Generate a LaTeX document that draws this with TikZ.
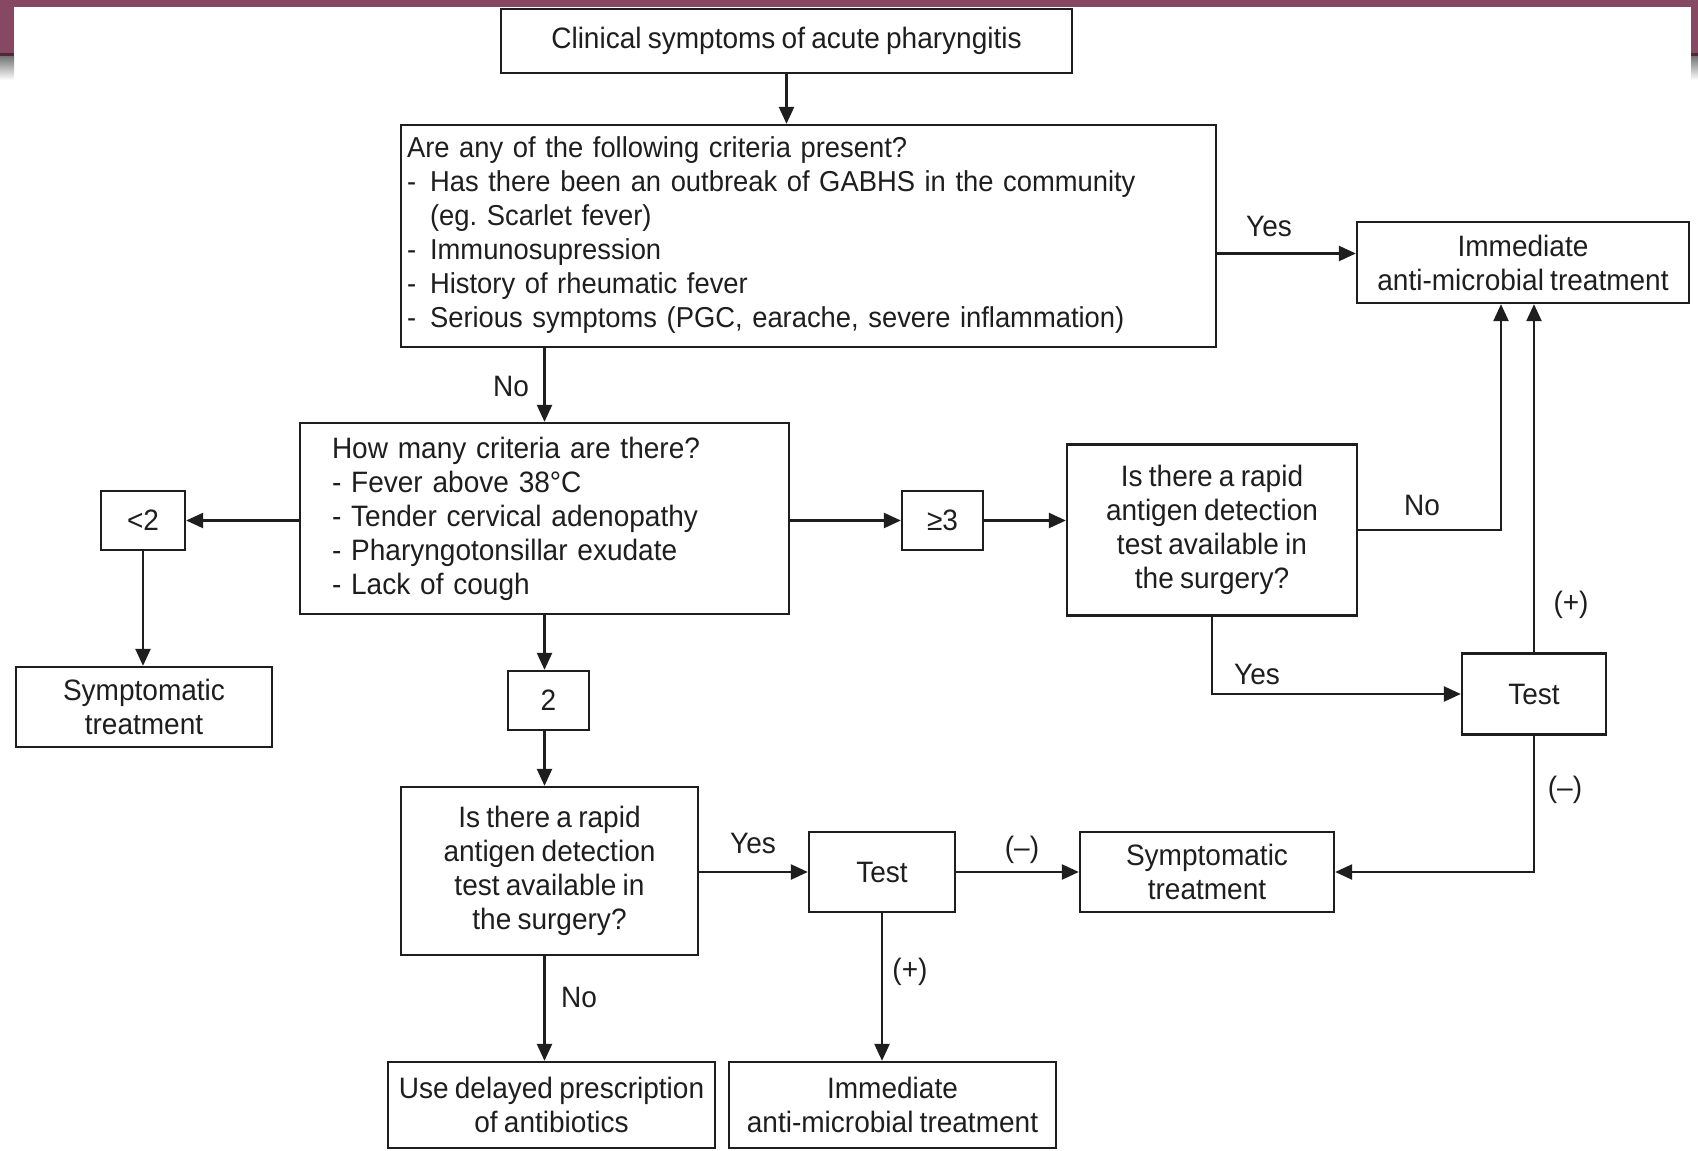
\documentclass[tikz,border=0pt]{standalone}
\usepackage{fontspec}
\setmainfont{Liberation Sans}[FakeStretch=0.95,WordSpace=0.8]
\usetikzlibrary{arrows.meta,calc}
\definecolor{ink}{RGB}{30,30,30}
\definecolor{plum}{RGB}{134,72,98}
\definecolor{plumdark}{RGB}{80,40,58}
\newcommand\fsz{\fontsize{29.5}{34}\selectfont}
\newcommand\fszc{\fontsize{28.8}{34}\selectfont}
\frenchspacing
\begin{document}
\begin{tikzpicture}[x=1pt,y=-1pt,
  box/.style={draw=ink, line width=2.3pt, inner sep=0pt, align=center, font=\fsz, text=ink},
  arr/.style={draw=ink, line width=2.3pt, -{Triangle[length=17pt,width=15pt]}},
  lbl/.style={font=\fsz, text=ink, inner sep=0pt}]
\useasboundingbox (0,0) rectangle (1698,1151);
\fill[white] (0,0) rectangle (1698,1151);
% frame decoration
\shade[top color=black!55, bottom color=white] (0,56) rectangle (14,80);
\shade[top color=black!55, bottom color=white] (1691,56) rectangle (1698,80);
\fill[plum] (0,0) rectangle (1698,7);
\fill[plum] (0,0) rectangle (14,56);
\fill[plum] (1691,0) rectangle (1698,56);
\fill[plumdark] (0,53) rectangle (14,56);
\fill[plumdark] (1691,53) rectangle (1698,56);

% nodes
\node[box, minimum width=571pt, minimum height=64pt] (clin) at (786.5,41) {Clinical symptoms of acute pharyngitis};
\node[box, font=\fszc, text width=803pt, inner xsep=6pt, minimum height=222pt, align=left] (crit) at (808.5,236) {%
\begin{tabular}{@{}l@{\hspace{14pt}}l@{}}
\multicolumn{2}{@{}l@{}}{Are any of the following criteria present?}\\
- & Has there been an outbreak of GABHS in the community\\
  & (eg. Scarlet fever)\\
- & Immunosupression\\
- & History of rheumatic fever\\
- & Serious symptoms (PGC, earache, severe inflammation)
\end{tabular}};
\node[box, minimum width=332pt, minimum height=81pt] (imm1) at (1523,262.5) {Immediate\\anti-microbial treatment};
\node[box, text width=425pt, inner xsep=32pt, minimum height=191pt, align=left] (howm) at (544.5,518.5) {How many criteria are there?\\- Fever above 38°C\\- Tender cervical adenopathy\\- Pharyngotonsillar exudate\\- Lack of cough};
\node[box, minimum width=84pt, minimum height=59pt] (lt2) at (143,520.5) {<2};
\node[box, minimum width=256pt, minimum height=80pt] (symL) at (144,707) {Symptomatic\\treatment};
\node[box, minimum width=81pt, minimum height=59pt] (ge3) at (942.5,520.5) {≥3};
\node[box, minimum width=290pt, minimum height=171pt] (rapR) at (1212,530) {Is there a rapid\\antigen detection\\test available in\\the surgery?};
\node[box, minimum width=144pt, minimum height=81pt] (testR) at (1534,694) {Test};
\node[box, minimum width=81pt, minimum height=59pt] (two) at (548.5,700.5) {2};
\node[box, minimum width=297pt, minimum height=168pt] (rapB) at (549.5,871) {Is there a rapid\\antigen detection\\test available in\\the surgery?};
\node[box, minimum width=146pt, minimum height=80pt] (testB) at (882,872) {Test};
\node[box, minimum width=254pt, minimum height=80pt] (symB) at (1207,872) {Symptomatic\\treatment};
\node[box, minimum width=327pt, minimum height=86pt] (delay) at (551.5,1105) {Use delayed prescription\\of antibiotics};
\node[box, minimum width=327pt, minimum height=86pt] (imm2) at (892.5,1105) {Immediate\\anti-microbial treatment};

% helper coordinates
\coordinate (yesY) at ([yshift=9pt]imm1.west);
\coordinate (noUp) at ([xshift=-22pt]imm1.south);

% connectors
\draw[arr] (clin.south) -- (clin.south |- crit.north);
\draw[arr] (yesY -| crit.east) -- (yesY) node[lbl, at={(1269,226)}] {Yes};
\draw[arr] (howm.north |- crit.south) -- (howm.north) node[lbl, at={(511,386)}] {No};
\draw[arr] (howm.west |- lt2.east) -- (lt2.east);
\draw[arr] (lt2.south) -- (lt2.south |- symL.north);
\draw[arr] (howm.east |- ge3.west) -- (ge3.west);
\draw[arr] (ge3.east) -- (ge3.east -| rapR.west);
\draw[arr] (rapR.east) -| (noUp) node[lbl, at={(1422,505)}] {No};
\draw[arr] (rapR.south) |- (testR.west) node[lbl, at={(1257,674)}] {Yes};
\draw[arr] (testR.north) -- (testR.north |- imm1.south) node[lbl, at={(1571,605)}] {(+)};
\draw[arr] (testR.south) |- (symB.east) node[lbl, at={(1565,790)}] {(–)};
\draw[arr] (howm.south) -- (howm.south |- two.north);
\draw[arr] (howm.south |- two.south) -- (howm.south |- rapB.north);
\draw[arr] (rapB.east |- testB.west) -- (testB.west) node[lbl, at={(753,843)}] {Yes};
\draw[arr] (howm.south |- rapB.south) -- (howm.south |- delay.north) node[lbl, at={(579,997)}] {No};
\draw[arr] (testB.east) -- (symB.west) node[lbl, at={(1022,850)}] {(–)};
\draw[arr] (testB.south) -- (testB.south |- imm2.north) node[lbl, at={(910,972)}] {(+)};
\end{tikzpicture}
\end{document}
